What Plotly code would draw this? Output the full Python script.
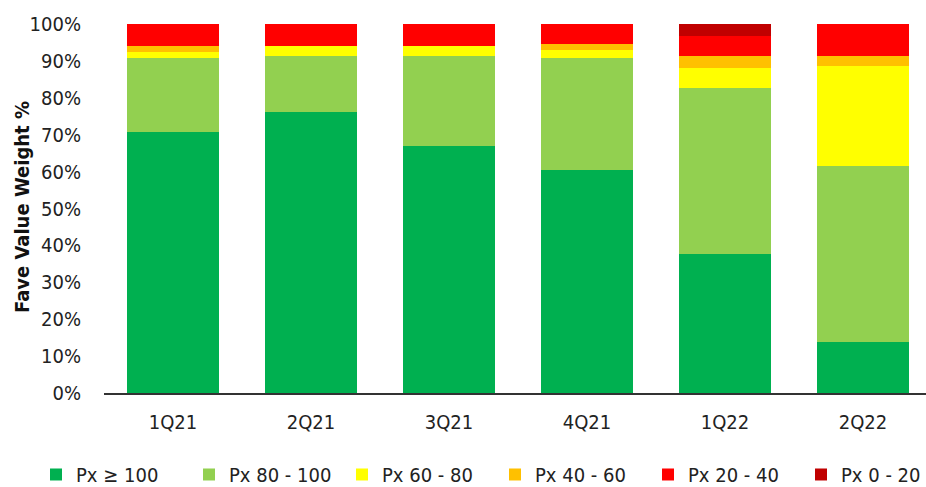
import plotly.graph_objects as go

quarters = ["1Q21", "2Q21", "3Q21", "4Q21", "1Q22", "2Q22"]

px_100_plus = [70.7, 76.2, 66.9, 60.4, 37.7, 13.8]
px_80_100 = [20.1, 15.1, 24.4, 30.4, 45.0, 47.7]
px_60_80 = [1.6, 2.7, 2.7, 2.2, 5.4, 27.1]
px_40_60 = [1.6, 0.0, 0.0, 1.6, 3.2, 2.7]
px_20_40 = [6.0, 6.0, 6.0, 5.4, 5.4, 8.7]
px_0_20 = [0.0, 0.0, 0.0, 0.0, 3.3, 0.0]

series = [
    ("Px \u2265 100", px_100_plus, "#00B050"),
    ("Px 80 - 100", px_80_100, "#92D050"),
    ("Px 60 - 80", px_60_80, "#FFFF00"),
    ("Px 40 - 60", px_40_60, "#FFC000"),
    ("Px 20 - 40", px_20_40, "#FF0000"),
    ("Px 0 - 20", px_0_20, "#C00000"),
]

FONT = "DejaVu Sans Condensed, Liberation Sans Narrow, sans-serif"
TEXT = "#222222"

fig = go.Figure()
for name, vals, color in series:
    fig.add_trace(go.Bar(
        x=quarters, y=vals, name=name,
        marker=dict(color=color, line=dict(width=0)),
        hoverinfo="x+y+name",
    ))

fig.add_annotation(
    text="<b>Fave Value Weight %</b>",
    xref="paper", yref="paper",
    x=-0.0998, y=0.504,
    xanchor="center", yanchor="middle",
    textangle=-90, showarrow=False,
    font=dict(family=FONT, size=20, color="#111111"),
)

fig.update_layout(
    barmode="stack",
    bargap=0.333,
    width=926, height=487,
    margin=dict(l=104, r=0, t=24, b=94, autoexpand=False),
    paper_bgcolor="white",
    plot_bgcolor="white",
    font=dict(family=FONT, size=20, color=TEXT),
    showlegend=True,
    legend=dict(
        orientation="h",
        x=-0.0827, xanchor="left",
        y=-0.168, yanchor="top",
        font=dict(family=FONT, size=20, color=TEXT),
        traceorder="normal",
        itemwidth=30,
        entrywidth=108,
    ),
    xaxis=dict(
        range=[-0.5, 5.457],
        showline=True, linecolor="#333333", linewidth=1.5,
        ticks="", showgrid=False, zeroline=False,
        ticklabelstandoff=10,
        tickfont=dict(family=FONT, size=20, color=TEXT),
    ),
    yaxis=dict(
        range=[0, 100],
        tickvals=list(range(0, 101, 10)),
        ticktext=[f"{v}%" for v in range(0, 101, 10)],
        showline=False, showgrid=False, zeroline=False,
        ticks="", ticklabelstandoff=22,
        tickfont=dict(family=FONT, size=20, color=TEXT),
        automargin=False,
    ),
)

fig.write_html("out.html")
